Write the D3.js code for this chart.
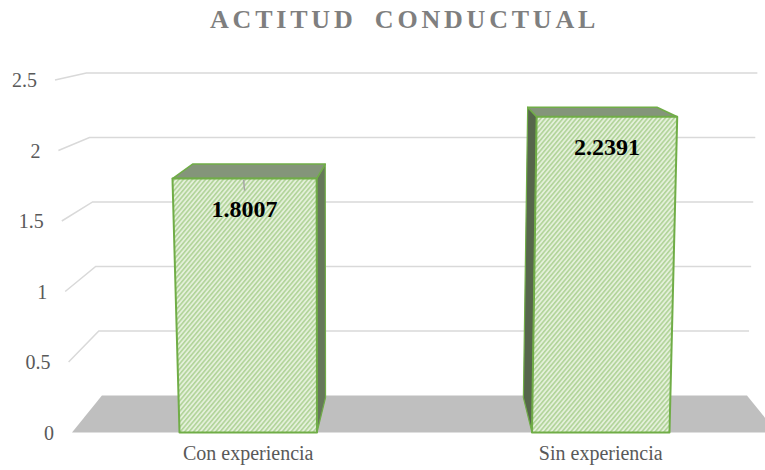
<!DOCTYPE html>
<html><head><meta charset="utf-8">
<script src="https://cdn.jsdelivr.net/npm/d3@7"></script>
<style>body{margin:0;background:#fff;} svg{display:block}</style>
</head><body>
<svg id="chart" width="765" height="470"></svg>
<script>
const title = "ACTITUD CONDUCTUAL";
const categories = ["Con experiencia", "Sin experiencia"];
const values = [1.8007, 2.2391];
const valueLabels = ["1.8007", "2.2391"];
const tickValues = [0, 0.5, 1, 1.5, 2, 2.5];
const tickLabels = ["0", "0.5", "1", "1.5", "2", "2.5"];

const svg = d3.select("#chart");
const x = d3.scaleBand().domain(categories).range([72, 777]).paddingInner(0.61).paddingOuter(0.305);
const y = d3.scaleLinear().domain([0, 2.5]).range([432.5, 80]);

// simple perspective projection: u along x-range, v value, z depth 0..1
const cx = 324, aL = 0.027, aR = 0.01, VP = [424, -3], floorDepth = 0.085, barDepth = 0.94;
function proj(u, v, z) {
  const a = u < cx ? aL : aR;
  const px = cx + (u - cx) * (1 + a * v);
  const py = y(v);
  const k = z * floorDepth;
  return [px + k * (VP[0] - px), py + k * (VP[1] - py)];
}
const line = d3.line();
const poly = pts => line(pts) + "Z";

const defs = svg.append("defs");
const pat = defs.append("pattern").attr("id", "hatch").attr("patternUnits", "userSpaceOnUse")
  .attr("width", 3.4).attr("height", 10).attr("patternTransform", "rotate(40)");
pat.append("rect").attr("width", 3.4).attr("height", 10).attr("fill", "#e4f0da");
pat.append("line").attr("x1", 0.8).attr("y1", 0).attr("x2", 0.8).attr("y2", 10)
  .attr("stroke", "#a9cf8f").attr("stroke-width", 1.4);

const [uL, uR] = x.range();

// floor
svg.append("path")
  .attr("d", poly([proj(uL, 0, 0), proj(uL, 0, 1), proj(uR, 0, 1), proj(uR, 0, 0)]))
  .attr("fill", "#bfbfbf");

// gridlines
svg.append("g").selectAll("path").data(tickValues.filter(t => t > 0)).join("path")
  .attr("d", t => line([proj(uL, t, 0), proj(uL, t, 1), proj(uR, t, 1)]))
  .attr("fill", "none").attr("stroke", "#d9d9d9").attr("stroke-width", 1.5);

// y tick labels
svg.append("g").selectAll("text").data(tickValues).join("text")
  .attr("x", t => proj(uL, t, 0)[0] - 18)
  .attr("y", t => y(t) + 7)
  .attr("text-anchor", "end")
  .attr("font-family", "'Liberation Serif', 'Times New Roman', serif")
  .attr("font-size", 20).attr("fill", "#595959")
  .text((t, i) => tickLabels[i]);

// bars
const bw = x.bandwidth();
const bars = svg.append("g").selectAll("g").data(categories).join("g");
bars.each(function (c, i) {
  const g = d3.select(this);
  const u0 = x(c), u1 = u0 + bw, v = values[i];
  const su = (u0 + u1) / 2 < VP[0] ? u1 : u0;
  g.append("path")
    .attr("d", poly([proj(su, 0, 0), proj(su, v, 0), proj(su, v, barDepth), proj(su, 0, barDepth)]))
    .attr("fill", su === u1 ? "#66785a" : "#56664b").attr("stroke", "#70ad47").attr("stroke-width", 1.2)
    .attr("stroke-linejoin", "round");
  g.append("path")
    .attr("d", poly([proj(u0, v, 0), proj(u1, v, 0), proj(u1, v, barDepth), proj(u0, v, barDepth)]))
    .attr("fill", "#84957a").attr("stroke", "#70ad47").attr("stroke-width", 1.5)
    .attr("stroke-linejoin", "round");
  g.append("path")
    .attr("d", poly([proj(u0, 0, 0), proj(u1, 0, 0), proj(u1, v, 0), proj(u0, v, 0)]))
    .attr("fill", "url(#hatch)").attr("stroke", "#70ad47").attr("stroke-width", 2)
    .attr("stroke-linejoin", "round");
  const mid = proj((u0 + u1) / 2, v, 0);
  if (i === 0) {
    g.append("line").attr("x1", mid[0] - 1).attr("y1", mid[1] + 1)
      .attr("x2", mid[0]).attr("y2", mid[1] + 12)
      .attr("stroke", "#a6a6a6").attr("stroke-width", 1.5);
  }
  g.append("text")
    .attr("x", mid[0]).attr("y", y(v) + 38)
    .attr("text-anchor", "middle")
    .attr("font-family", "'Liberation Serif', 'Times New Roman', serif")
    .attr("font-size", 24).attr("font-weight", "bold").attr("fill", "#000")
    .text(valueLabels[i]);
});

// x labels
svg.append("g").selectAll("text").data(categories).join("text")
  .attr("x", c => x(c) + bw / 2)
  .attr("y", 460)
  .attr("text-anchor", "middle")
  .attr("font-family", "'Liberation Serif', 'Times New Roman', serif")
  .attr("font-size", 20).attr("fill", "#595959")
  .text(c => c);

// title
svg.append("text")
  .attr("x", 210).attr("y", 28)
  .attr("text-anchor", "start")
  .attr("font-family", "'Liberation Serif', 'Times New Roman', serif")
  .attr("font-size", 26).attr("font-weight", "bold").attr("fill", "#7f7f7f")
  .attr("letter-spacing", 3.8).attr("word-spacing", 8)
  .text(title);
</script>
</body></html>
